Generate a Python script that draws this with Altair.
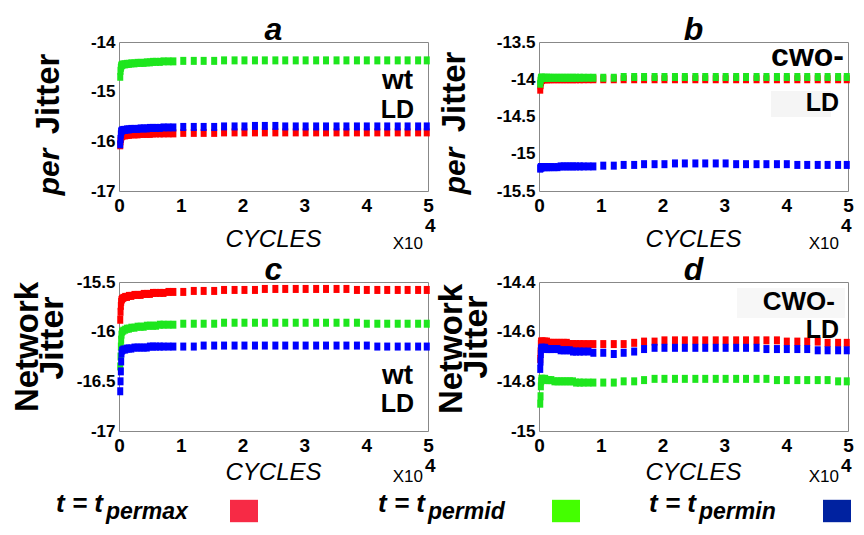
import altair as alt
import pandas as pd

# ---------------- data (cycles in units of 10^4) ----------------
cycles = [0.02, 0.025, 0.03, 0.035, 0.04, 0.05, 0.07, 0.10, 0.13, 0.16, 0.20,
          0.25, 0.30, 0.35, 0.40, 0.45, 0.50, 0.55, 0.60, 0.66, 0.72, 0.80,
          0.88, 1.04, 1.21, 1.37, 1.54, 1.70, 1.87, 2.03, 2.20, 2.36, 2.53,
          2.69, 2.86, 3.02, 3.19, 3.35, 3.52, 3.68, 3.85, 4.01, 4.18, 4.34,
          4.51, 4.67, 4.84, 4.98]

series_keys = ["permax", "permid", "permin"]
series_colors = ["#ff0000", "#1ee61e", "#0000ff"]
legend_colors = ["#f72a45", "#44ff00", "#0022a0"]
x_ticks = [0, 1, 2, 3, 4, 5]

a_max = [-16.08, -16.00, -15.95, -15.92, -15.90, -15.89, -15.88, -15.88, -15.87, -15.87, -15.86,
         -15.86, -15.86, -15.85, -15.85, -15.85, -15.85, -15.84, -15.84, -15.84, -15.84, -15.84,
         -15.84, -15.83, -15.83, -15.83, -15.83, -15.82, -15.82, -15.82, -15.82, -15.82, -15.82,
         -15.82, -15.82, -15.82, -15.82, -15.82, -15.82, -15.82, -15.82, -15.82, -15.82, -15.82,
         -15.82, -15.82, -15.82, -15.82]
a_mid = [-14.70, -14.58, -14.52, -14.49, -14.47, -14.46, -14.45, -14.45, -14.44, -14.44, -14.43,
         -14.43, -14.42, -14.42, -14.42, -14.41, -14.41, -14.40, -14.40, -14.40, -14.39, -14.39,
         -14.39, -14.38, -14.38, -14.38, -14.38, -14.37, -14.37, -14.37, -14.37, -14.37, -14.37,
         -14.37, -14.37, -14.37, -14.37, -14.37, -14.37, -14.37, -14.37, -14.37, -14.37, -14.37,
         -14.37, -14.37, -14.37, -14.37]
a_min = [-16.06, -15.95, -15.86, -15.81, -15.79, -15.78, -15.77, -15.77, -15.76, -15.76, -15.75,
         -15.75, -15.75, -15.74, -15.74, -15.74, -15.73, -15.73, -15.73, -15.73, -15.72, -15.72,
         -15.72, -15.71, -15.71, -15.71, -15.71, -15.70, -15.70, -15.70, -15.69, -15.69, -15.69,
         -15.70, -15.70, -15.70, -15.70, -15.70, -15.70, -15.70, -15.70, -15.70, -15.70, -15.70,
         -15.70, -15.70, -15.70, -15.70]

b_max = [-14.14, -14.08, -14.04, -14.02, -14.01, -14.01, -14.00, -14.00, -14.00, -14.00, -14.00,
         -14.00, -14.00, -14.00, -14.00, -14.00, -14.00, -14.00, -14.00, -14.00, -14.00, -14.00,
         -14.00, -14.00, -14.00, -14.00, -14.00, -14.00, -14.00, -14.00, -14.00, -14.00, -14.00,
         -14.00, -14.00, -14.00, -14.00, -14.00, -14.00, -14.00, -14.00, -14.00, -14.00, -14.00,
         -14.00, -14.00, -14.00, -14.00]
b_mid = [-14.06, -14.02, -13.99, -13.98, -13.98, -13.98, -13.98, -13.98, -13.98, -13.98, -13.98,
         -13.98, -13.98, -13.98, -13.98, -13.98, -13.98, -13.98, -13.98, -13.98, -13.98, -13.98,
         -13.98, -13.98, -13.98, -13.97, -13.97, -13.97, -13.97, -13.97, -13.97, -13.97, -13.97,
         -13.97, -13.97, -13.97, -13.97, -13.97, -13.97, -13.97, -13.97, -13.97, -13.97, -13.97,
         -13.97, -13.97, -13.97, -13.97]
b_min = [-15.20, -15.19, -15.18, -15.18, -15.18, -15.18, -15.18, -15.18, -15.18, -15.18, -15.18,
         -15.18, -15.18, -15.17, -15.17, -15.17, -15.17, -15.17, -15.17, -15.17, -15.17, -15.17,
         -15.17, -15.16, -15.16, -15.15, -15.15, -15.14, -15.14, -15.14, -15.13, -15.13, -15.13,
         -15.13, -15.13, -15.13, -15.14, -15.14, -15.14, -15.14, -15.14, -15.14, -15.15, -15.15,
         -15.15, -15.15, -15.15, -15.15]

c_max = [-15.88, -15.80, -15.74, -15.70, -15.68, -15.67, -15.66, -15.65, -15.65, -15.64, -15.64,
         -15.63, -15.63, -15.63, -15.62, -15.62, -15.62, -15.61, -15.61, -15.61, -15.61, -15.60,
         -15.60, -15.60, -15.59, -15.59, -15.59, -15.58, -15.58, -15.58, -15.58, -15.57, -15.57,
         -15.57, -15.57, -15.57, -15.57, -15.57, -15.57, -15.57, -15.58, -15.58, -15.58, -15.58,
         -15.58, -15.58, -15.58, -15.58]
c_mid = [-16.35, -16.25, -16.15, -16.08, -16.03, -16.00, -15.99, -15.98, -15.97, -15.97, -15.96,
         -15.96, -15.95, -15.95, -15.95, -15.94, -15.94, -15.94, -15.94, -15.93, -15.93, -15.93,
         -15.93, -15.92, -15.92, -15.92, -15.92, -15.91, -15.91, -15.91, -15.91, -15.91, -15.91,
         -15.91, -15.91, -15.91, -15.91, -15.91, -15.91, -15.91, -15.91, -15.92, -15.92, -15.92,
         -15.92, -15.92, -15.92, -15.92]
c_min = [-16.60, -16.50, -16.40, -16.30, -16.22, -16.19, -16.18, -16.18, -16.17, -16.17, -16.17,
         -16.16, -16.16, -16.16, -16.16, -16.16, -16.15, -16.15, -16.15, -16.15, -16.15, -16.15,
         -16.15, -16.15, -16.15, -16.14, -16.14, -16.14, -16.14, -16.14, -16.14, -16.14, -16.14,
         -16.14, -16.14, -16.14, -16.14, -16.14, -16.14, -16.14, -16.14, -16.14, -16.15, -16.15,
         -16.15, -16.15, -16.15, -16.15]

d_max = [-14.71, -14.68, -14.65, -14.64, -14.64, -14.64, -14.64, -14.64, -14.64, -14.645, -14.645,
         -14.645, -14.645, -14.645, -14.645, -14.645, -14.65, -14.65, -14.65, -14.65, -14.65, -14.65,
         -14.65, -14.65, -14.65, -14.65, -14.645, -14.64, -14.64, -14.635, -14.635, -14.635, -14.635,
         -14.635, -14.635, -14.635, -14.635, -14.635, -14.635, -14.635, -14.635, -14.64, -14.64, -14.64,
         -14.64, -14.645, -14.645, -14.645]
d_mid = [-14.89, -14.86, -14.82, -14.80, -14.79, -14.79, -14.79, -14.79, -14.795, -14.795, -14.795,
         -14.80, -14.80, -14.80, -14.80, -14.80, -14.80, -14.80, -14.805, -14.805, -14.805, -14.805,
         -14.805, -14.805, -14.805, -14.80, -14.80, -14.795, -14.79, -14.79, -14.79, -14.79, -14.79,
         -14.79, -14.79, -14.79, -14.79, -14.79, -14.79, -14.79, -14.795, -14.795, -14.795, -14.795,
         -14.795, -14.795, -14.80, -14.80]
d_min = [-14.75, -14.72, -14.69, -14.67, -14.665, -14.665, -14.665, -14.665, -14.67, -14.67, -14.67,
         -14.67, -14.67, -14.675, -14.675, -14.675, -14.675, -14.68, -14.68, -14.68, -14.68, -14.68,
         -14.685, -14.685, -14.69, -14.685, -14.68, -14.67, -14.665, -14.665, -14.665, -14.665, -14.665,
         -14.665, -14.665, -14.665, -14.665, -14.665, -14.665, -14.67, -14.67, -14.67, -14.67, -14.67,
         -14.675, -14.675, -14.675, -14.675]

# ---------------- style ----------------
FONT = "Liberation Sans"
W, H = 309, 149
RECT = "M-0.75,-1H0.75V1H-0.75Z"
LEG_RECT = "M-1,-0.8H1V0.8H-1Z"


def T(text, x, y, size, align="left", style="normal", weight="bold", angle=0, color="black"):
    return alt.Chart(pd.DataFrame({"t": [text]})).mark_text(
        align=align, baseline="alphabetic", angle=angle, fontSize=size,
        fontStyle=style, fontWeight=weight, font=FONT, color=color
    ).encode(x=alt.value(x), y=alt.value(y), text="t:N")


def R(x, x2, y, y2, fill):
    return alt.Chart(pd.DataFrame({"t": [0]})).mark_rect(fill=fill).encode(
        x=alt.value(x), x2=alt.value(x2), y=alt.value(y), y2=alt.value(y2))


def panel(ys, domain, yticks, letter, ytitle, annots, cyc_base, x10, pre=None, post=None):
    rows = []
    for key, vals in zip(series_keys, ys):
        for cx, cy in zip(cycles, vals):
            rows.append({"cycles": cx, "value": cy, "series": key})
    df = pd.DataFrame(rows)
    pts = alt.Chart(df).mark_point(
        shape=RECT, size=64, filled=True, opacity=1, strokeWidth=0
    ).encode(
        x=alt.X("cycles:Q", scale=alt.Scale(domain=[0, 5], nice=False, zero=False),
                axis=alt.Axis(values=x_ticks, title=None, grid=False, ticks=False, domain=False,
                              labelFont=FONT, labelFontSize=19, labelFontWeight="bold",
                              labelColor="black", labelPadding=5, labelFlush=False,
                              labelOverlap=False)),
        y=alt.Y("value:Q", scale=alt.Scale(domain=domain, nice=False, zero=False),
                axis=alt.Axis(values=yticks, title=None, grid=False, ticks=False, domain=False,
                              labelFont=FONT, labelFontSize=17, labelFontWeight="bold",
                              labelColor="black", labelPadding=4, labelFlush=False,
                              labelOverlap=False, labelExpr="toString(datum.value)")),
        color=alt.Color("series:N", scale=alt.Scale(domain=series_keys, range=series_colors),
                        legend=None),
    )
    layers = list(pre or []) + [pts]
    layers.append(T(letter, W / 2, -2, 32, align="center", style="italic"))
    for (txt, x, y, size, style) in ytitle:
        layers.append(T(txt, x, y, size, align="center", style=style, angle=270))
    for (txt, x, y, size) in annots:
        layers.append(T(txt, x, y, size, align="right"))
    layers.append(T("CYCLES", W / 2, cyc_base, 24, align="center", style="italic", weight="normal"))
    x10_right, x10_base, four_left = x10
    layers.append(T("X10", x10_right, x10_base, 17, align="right", weight="normal"))
    layers.append(T("4", four_left, 190, 19, align="left"))
    layers += list(post or [])
    return alt.layer(*layers).properties(width=W, height=H)


pa = panel([a_max, a_mid, a_min], [-17, -14], [-17, -16, -15, -14], "a",
           [("per", -60, 130, 30, "italic"), ("Jitter", -60, 52, 33, "normal")],
           [("wt", 294, 47, 28), ("LD", 295, 76, 25)], 205, (W - 5, 207, W - 3))

pb = panel([b_max, b_mid, b_min], [-15.5, -13.5], [-15.5, -15, -14.5, -14, -13.5], "b",
           [("per", -74, 129, 30, "italic"), ("Jitter", -74, 50, 33, "normal")],
           [("cwo-", W - 4, 24, 32), ("LD", W - 9, 69, 25)], 205, (W - 9, 207, W - 7),
           pre=[R(W - 77, W - 17, 49, 75, "#f5f5f5")])

# legend (drawn below panel c, spanning the figure width)
legend_layers = []
leg_text_x = [-63, 259, 530]
for key, col, lx in zip(series_keys, legend_colors, leg_text_x):
    legend_layers.append(T("t = t", lx, 230, 26, style="italic"))
    legend_layers.append(T(key, lx + 50, 237, 23, style="italic"))
    legend_layers.append(
        alt.Chart(pd.DataFrame({"series": [key]})).mark_point(
            shape=LEG_RECT, size=784, filled=True, opacity=1, strokeWidth=0, color=col
        ).encode(x=alt.value(lx + 188), y=alt.value(229))
    )

pc = panel([c_max, c_mid, c_min], [-17, -15.5], [-17, -16.5, -16, -15.5], "c",
           [("Network", -81, 65, 33, "normal"), ("Jitter", -56, 56, 34, "normal")],
           [("wt", 294, 102, 28), ("LD", 295, 130, 25)], 198, (W - 5, 200, W - 3),
           post=legend_layers)

pd_ = panel([d_max, d_mid, d_min], [-15, -14.4], [-15, -14.8, -14.6, -14.4], "d",
            [("Network", -77, 67, 33, "normal"), ("Jitter", -52, 55, 34, "normal")],
            [("CWO-", W - 13, 28, 26), ("LD", W - 9, 56, 25)], 198, (W - 9, 200, W - 7),
            pre=[R(W - 111, W - 3, 6, 36, "#f7f7f7")])

chart = alt.concat(
    pa, pb, pc, pd_, columns=2, bounds="flush",
    spacing=alt.RowColnumber(row=91, column=111)
).properties(
    padding={"left": 3, "top": 5, "right": 0, "bottom": 0},
    background="white"
).configure_view(stroke="#888888", strokeWidth=1)

chart.save("out.html", embed_options={"renderer": "svg", "actions": False})
